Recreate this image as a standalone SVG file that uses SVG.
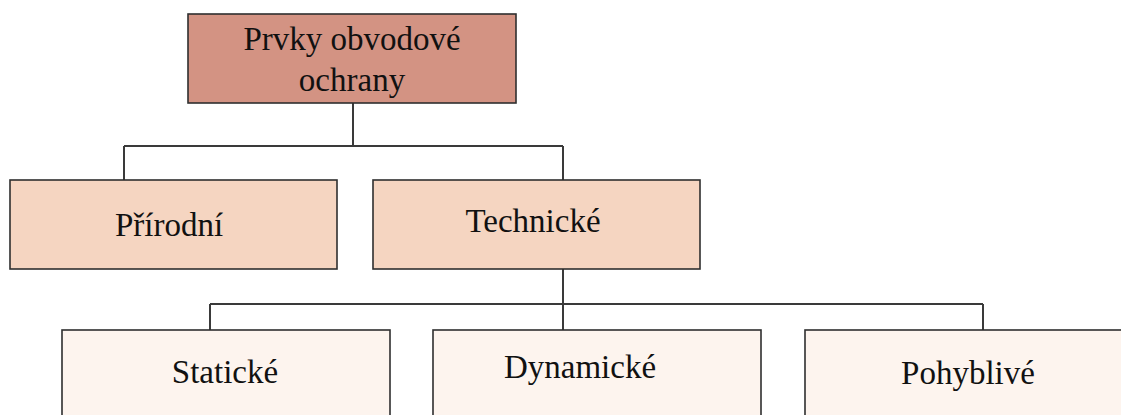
<svg xmlns="http://www.w3.org/2000/svg" width="1121" height="415" viewBox="0 0 1121 415">
  <style>
    .box { stroke: #2f2f2f; stroke-width: 1.6; }
    .l1 { fill: #d39383; }
    .l2 { fill: #f5d5c1; }
    .l3 { fill: #fdf4ee; }
    .label { font-family: "Liberation Serif", "Times New Roman", serif; font-size: 33px; fill: #111; text-anchor: middle; }
    .wire { fill: none; stroke: #3a3a3a; stroke-width: 2; }
  </style>
  <rect width="1121" height="415" fill="#ffffff"/>

  <!-- connectors -->
  <g id="connectors">
    <path class="wire" d="M353 103 V146 M124 146 H563 M124 146 V180 M563 146 V180"/>
    <path class="wire" d="M563 269 V330 M210 304 H983 M210 304 V330 M983 304 V330"/>
  </g>

  <g id="node-root">
    <rect class="box l1" x="188" y="14" width="328" height="89"/>
    <text class="label" x="352" y="50">Prvky obvodové</text>
    <text class="label" x="352" y="91">ochrany</text>
  </g>

  <g id="node-prirodni">
    <rect class="box l2" x="10" y="180" width="327" height="89"/>
    <text class="label" x="169" y="236">Přírodní</text>
  </g>

  <g id="node-technicke">
    <rect class="box l2" x="373" y="180" width="327" height="89"/>
    <text class="label" x="533" y="232">Technické</text>
  </g>

  <g id="node-staticke">
    <rect class="box l3" x="62" y="330" width="328" height="100"/>
    <text class="label" x="225" y="383">Statické</text>
  </g>

  <g id="node-dynamicke">
    <rect class="box l3" x="433" y="330" width="328" height="100"/>
    <text class="label" x="580" y="378">Dynamické</text>
  </g>

  <g id="node-pohyblive">
    <rect class="box l3" x="805" y="330" width="330" height="100"/>
    <text class="label" x="968" y="384">Pohyblivé</text>
  </g>
</svg>
